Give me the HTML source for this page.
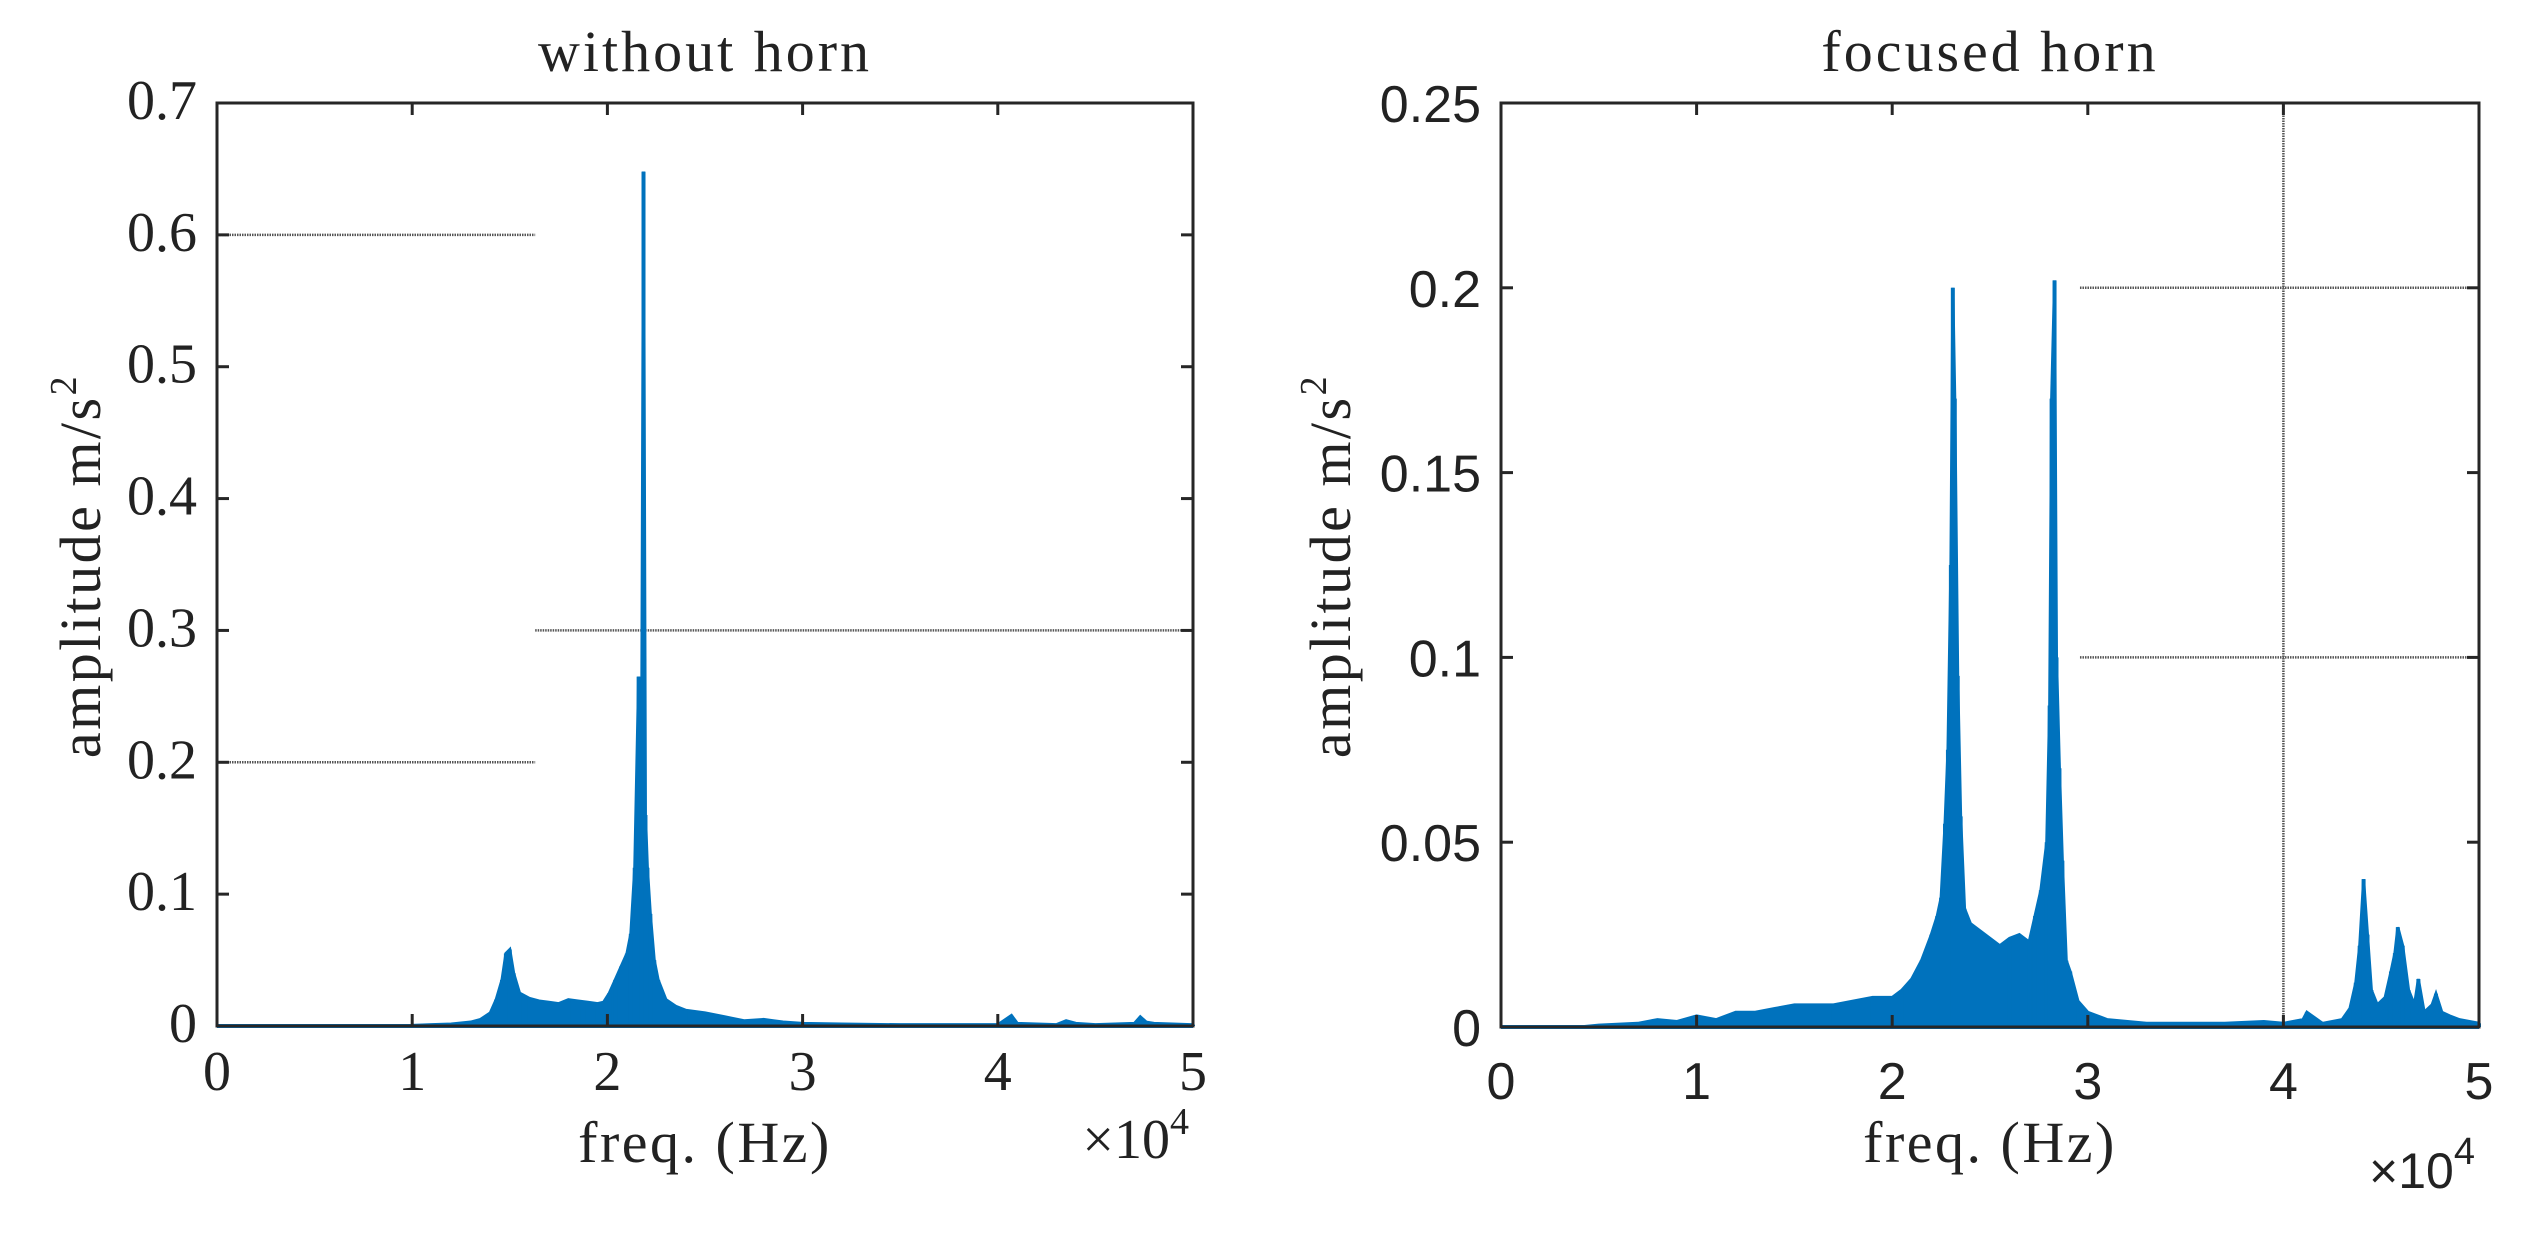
<!DOCTYPE html>
<html><head><meta charset="utf-8"><style>
html,body{margin:0;padding:0;background:#fff;}
svg{display:block;}
.serif{font-family:"Liberation Serif",serif;fill:#222;}
.sans{font-family:"Liberation Sans",sans-serif;fill:#222;}
</style></head><body>
<svg id="fig" width="2546" height="1237" viewBox="0 0 2546 1237" xmlns="http://www.w3.org/2000/svg">
<rect width="2546" height="1237" fill="#fff"/>
</svg>
<script>
// ---- Left chart data (freq in kHz, amplitude m/s^2)
const leftFreq = [0,5,10,11,12,13,13.5,14,14.3,14.6,14.8,15,15.2,15.5,16,16.5,17,17.5,18,18.5,19,19.5,19.8,20.1,20.4,20.7,21,21.2,21.4,21.6,21.75,21.85,21.95,22.05,22.2,22.4,22.6,23,23.5,24,25,26,27,28,28.5,29,30,32,35,38,40,40.7,41,43,43.5,44,45,47,47.3,47.6,48,50];
const leftAmp  = [0,0,0.0005,0.001,0.0015,0.003,0.005,0.01,0.02,0.035,0.055,0.058,0.04,0.025,0.021,0.019,0.018,0.017,0.02,0.019,0.018,0.017,0.018,0.025,0.035,0.045,0.055,0.07,0.12,0.265,0.2,0.648,0.16,0.12,0.085,0.05,0.035,0.02,0.015,0.012,0.01,0.007,0.004,0.005,0.004,0.003,0.002,0.0015,0.001,0.001,0.001,0.008,0.002,0.001,0.004,0.002,0.001,0.002,0.007,0.003,0.002,0.001];
const leftYTicks = [0,0.1,0.2,0.3,0.4,0.5,0.6,0.7];
const leftYTickLabels = ["0","0.1","0.2","0.3","0.4","0.5","0.6","0.7"];
// ---- Right chart data
const rightFreq = [0,4,5,7,8,9,10,11,12,13,14,15,16,17,18,19,20,20.5,21,21.5,22,22.3,22.5,22.7,22.85,23,23.1,23.2,23.35,23.5,23.7,24,24.5,25,25.5,26,26.5,27,27.3,27.6,27.9,28.05,28.15,28.3,28.4,28.55,28.7,28.9,29.1,29.5,30,31,33,35,37,39,40,41,41.2,42,43,43.4,43.7,43.9,44.1,44.3,44.5,44.8,45.2,45.5,45.7,45.85,46.1,46.4,46.7,46.9,47.2,47.6,47.8,48.1,48.5,49,50];
const rightAmp  = [0,0,0.0005,0.001,0.002,0.0015,0.003,0.002,0.004,0.004,0.005,0.006,0.006,0.006,0.007,0.008,0.008,0.01,0.013,0.018,0.025,0.03,0.035,0.055,0.075,0.125,0.2,0.17,0.095,0.057,0.032,0.028,0.026,0.024,0.022,0.024,0.025,0.023,0.03,0.037,0.05,0.087,0.17,0.202,0.1,0.07,0.045,0.018,0.015,0.007,0.004,0.002,0.001,0.001,0.001,0.0015,0.001,0.002,0.004,0.001,0.002,0.005,0.012,0.022,0.04,0.025,0.01,0.006,0.008,0.015,0.02,0.027,0.022,0.01,0.006,0.013,0.004,0.006,0.009,0.004,0.003,0.002,0.001];
const rightYTicks = [0,0.05,0.1,0.15,0.2,0.25];
const rightYTickLabels = ["0","0.05","0.1","0.15","0.2","0.25"];
const xTicks = [0,10,20,30,40,50];
const xTickLabels = ["0","1","2","3","4","5"];

const NS = "http://www.w3.org/2000/svg";
const svg = document.getElementById('fig');
function mk(tag, attrs, parent){
  const e = document.createElementNS(NS, tag);
  for (const k in attrs) e.setAttribute(k, attrs[k]);
  (parent||svg).appendChild(e);
  return e;
}

function drawChart(o){
  const g = mk('g', {});
  
  
  const X = v => o.x0 + (v/50)*(o.x1-o.x0);
  const Y = v => o.y1 - (v/o.ymax)*(o.y1-o.y0);
  const fcls = o.sans ? 'sans' : 'serif';
  const tfs = o.sans ? 52 : 56;

  o.gray.forEach(gl => {
    const l = mk('line', {x1:X(gl[0]), y1:Y(gl[1]), x2:X(gl[2]), y2:Y(gl[3]), stroke:'#555', 'stroke-width':2.5, 'stroke-dasharray':'1.5 1'}, g);
    
    
  });

  let d = 'M' + X(o.freq[0]) + ' ' + Y(0);
  for (let i=0;i<o.freq.length;i++) d += ' L' + X(o.freq[i]) + ' ' + Y(o.amp[i]);
  d += ' L' + X(o.freq[o.freq.length-1]) + ' ' + Y(0) + ' Z';
  const area = mk('path', {d:d, fill:'#0072BD', stroke:'#0072BD', 'stroke-width':3, 'stroke-linejoin':'miter'}, g);
  
  
  for (let i=0;i<o.freq.length;i++){
    const s = mk('line', {x1:X(o.freq[i]), y1:Y(0), x2:X(o.freq[i]), y2:Y(o.amp[i]), stroke:'#0072BD', 'stroke-width':4}, g);
    
    
  }
  const base = mk('line', {x1:o.x0, y1:o.y1, x2:o.x1, y2:o.y1, stroke:'#0072BD', 'stroke-width':4}, g);
  
  

  const box = mk('rect', {x:o.x0, y:o.y0, width:o.x1-o.x0, height:o.y1-o.y0, fill:'none', stroke:'#262626', 'stroke-width':3}, g);
  
  

  o.yticks.forEach((t,i) => {
    const y = Y(t);
    mk('line', {x1:o.x0, y1:y, x2:o.x0+12, y2:y, stroke:'#262626', 'stroke-width':3}, g);
    mk('line', {x1:o.x1, y1:y, x2:o.x1-12, y2:y, stroke:'#262626', 'stroke-width':3}, g);
    const tx = mk('text', {x:o.x0-20, y:y+(o.sans?19:16), 'text-anchor':'end', 'font-size':tfs, class:fcls}, g);
    tx.textContent = o.ylabels[i];
    
    
  });
  xTicks.forEach((t,i) => {
    const x = X(t);
    mk('line', {x1:x, y1:o.y1, x2:x, y2:o.y1-12, stroke:'#262626', 'stroke-width':3}, g);
    mk('line', {x1:x, y1:o.y0, x2:x, y2:o.y0+12, stroke:'#262626', 'stroke-width':3}, g);
    const tx = mk('text', {x:x, y:o.xtY, 'text-anchor':'middle', 'font-size':tfs, class:fcls}, g);
    tx.textContent = xTickLabels[i];
    
    
  });
  const ti = mk('text', {x:(o.x0+o.x1)/2, y:71, 'text-anchor':'middle', 'font-size':58, 'letter-spacing':3, class:'serif'}, g);
  ti.textContent = o.title;
  
  
  const xl = mk('text', {x:(o.x0+o.x1)/2, y:1162, 'text-anchor':'middle', 'font-size':58, 'letter-spacing':2.5, class:'serif'}, g);
  xl.textContent = 'freq. (Hz)';
  
  
  const ex = mk('text', {x:o.x1-4, y:o.expY, 'text-anchor':'end', 'font-size':o.sans?50:56, class:fcls}, g);
  ex.innerHTML = '×10<tspan dy="-24" font-size="38">4</tspan>';
  
  
  const yl = mk('text', {x:0, y:0, 'text-anchor':'middle', 'font-size':58, 'letter-spacing':2.5, class:'serif', transform:'translate('+o.ylx+',566) rotate(-90)'}, g);
  yl.innerHTML = 'amplitude m/s<tspan dy="-24" font-size="38">2</tspan>';
  
  
}

drawChart({name:'chart-without-horn', x0:217, x1:1193, y0:103, y1:1026, ymax:0.7,
  freq:leftFreq, amp:leftAmp, yticks:leftYTicks, ylabels:leftYTickLabels,
  title:'without horn', sans:false, expY:1158, xtY:1090, ylx:100,
  gray:[[0,0.6,16.3,0.6],[0,0.2,16.3,0.2],[16.3,0.3,50,0.3]]});
drawChart({name:'chart-focused-horn', x0:1501, x1:2479, y0:103, y1:1027, ymax:0.25,
  freq:rightFreq, amp:rightAmp, yticks:rightYTicks, ylabels:rightYTickLabels,
  title:'focused horn', sans:true, expY:1188, xtY:1099, ylx:1350,
  gray:[[29.6,0.2,50,0.2],[29.6,0.1,50,0.1],[40,0,40,0.25]]});
</script>
</body></html>
